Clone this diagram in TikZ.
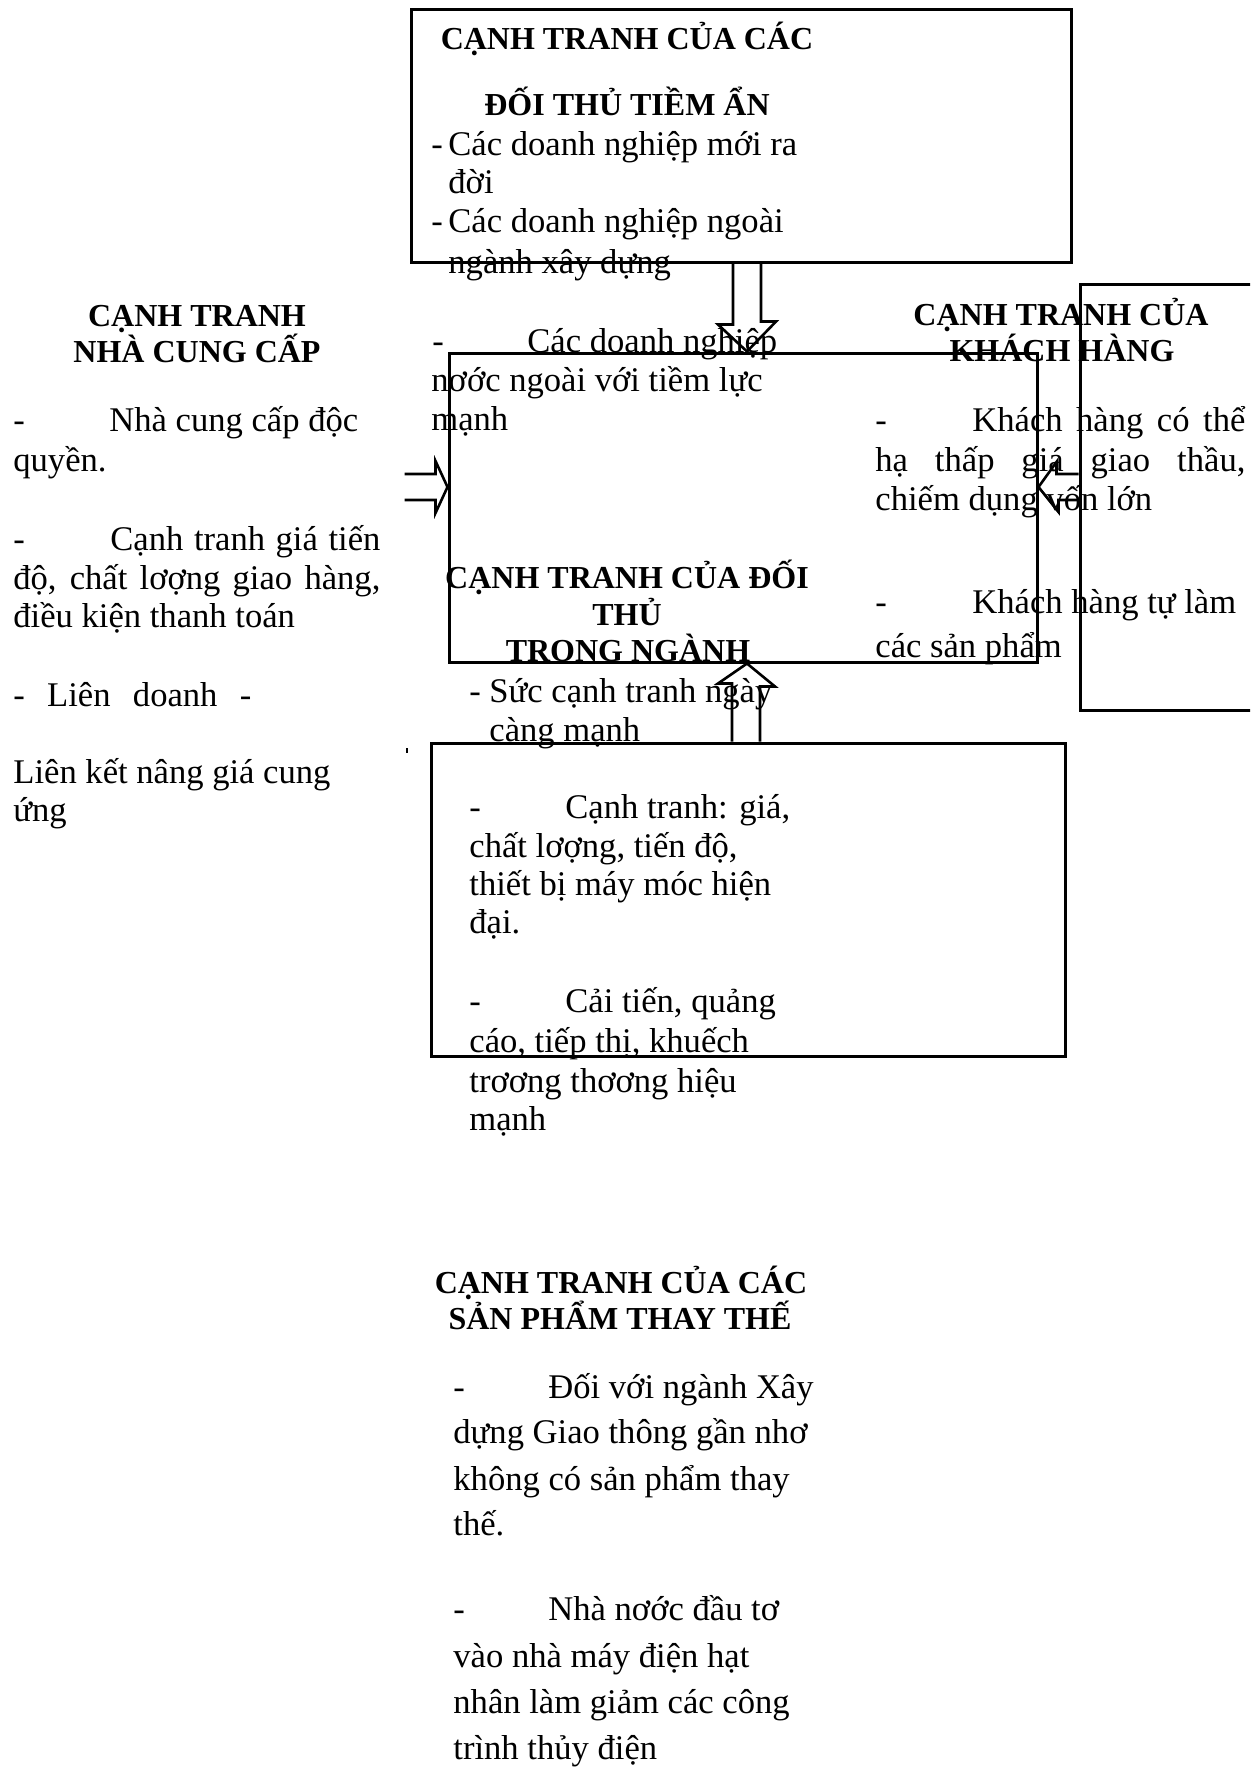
\documentclass[tikz,border=0pt]{standalone}
\usepackage{fontspec}
\setmainfont{Liberation Serif}
\usetikzlibrary{calc,fit}
\newcommand\bodysize{\fontsize{17.3}{20}\selectfont}
\newcommand\headsize{\fontsize{16}{19}\selectfont\bfseries}
% a dash followed by a tab stop of the given width
\newcommand\tabdash[1]{\makebox[#1][l]{-}}

\begin{document}
\begin{tikzpicture}[x=0.5pt,y=-0.5pt,
  txt/.style={anchor=base west, inner sep=0pt, font=\bodysize},
  head/.style={anchor=base, inner sep=0pt, font=\headsize},
  box/.style={draw, line width=1.5pt, inner sep=0pt},
  hollow/.style={draw, line width=1.3pt, line join=miter}]
\useasboundingbox (0,0) rectangle (1250,1769);
\fill[white] (0,0) rectangle (1250,1769);
\clip (0,0) rectangle (1250,1769);

% ---------- frames ----------
\node[box, fit={(411,9) (1071,262)}] (topbox) {};
\node[box, fit={(449,353) (1037,662)}] (midbox) {};
\node[box, fit={(1080,284) (1275,710)}] (custbox) {};
\node[box, fit={(431,743) (1065,1056)}] (botbox) {};

% ---------- potential entrants ----------
\node[head] (h1a) at (627,49) {CẠNH TRANH CỦA CÁC};
\node[head] (h1b) at (627,115) {ĐỐI THỦ TIỀM ẨN};
\node[txt] (p1) at (431,155) {\tabdash{8.5pt}Các doanh nghiệp mới ra};
\node[txt] (p2) at (448,193) {đời};
\node[txt] (p3) at (431,232) {\tabdash{8.5pt}Các doanh nghiệp ngoài};
\node[txt] (p4) at (448,273) {ngành xây dựng};
\node[txt] (p5) at (432,352) {\tabdash{47.5pt}Các doanh nghiệp};
\node[txt] (p6) at (431,391) {nơớc ngoài với tiềm lực};
\node[txt] (p7) at (431,430) {mạnh};

% ---------- rivalry in the industry ----------
\node[head] (h2a) at (627,588) {CẠNH TRANH CỦA ĐỐI};
\node[head] (h2b) at (627,625) {THỦ};
\node[head] (h2c) at (628,661) {TRONG NGÀNH};
\node[txt] (r1) at (469,702) {\tabdash{10pt}Sức cạnh tranh ngày};
\node[txt] (r2) at (489,741) {càng mạnh};
\node[txt] (r3) at (469,818) {\tabdash{48pt}Cạnh tranh: giá,};
\node[txt] (r4) at (469,857) {chất lơợng, tiến độ,};
\node[txt] (r5) at (469,895) {thiết bị máy móc hiện};
\node[txt] (r6) at (469,933) {đại.};
\node[txt] (r7) at (469,1012) {\tabdash{48pt}Cải tiến, quảng};
\node[txt] (r8) at (469,1052) {cáo, tiếp thị, khuếch};
\node[txt] (r9) at (469,1092) {trơơng thơơng hiệu};
\node[txt] (r10) at (469,1130) {mạnh};

% ---------- suppliers ----------
\node[head] (h3a) at (197,326) {CẠNH TRANH};
\node[head] (h3b) at (197,362) {NHÀ CUNG CẤP};
\node[txt] (s1) at (13,431) {\tabdash{48pt}Nhà cung cấp độc};
\node[txt] (s2) at (13,471) {quyền.};
\node[txt] (s3) at (13,550) {\tabdash{48.5pt}\makebox[135pt][s]{Cạnh tranh giá tiến}};
\node[txt] (s4) at (13,589) {\makebox[183.5pt][s]{độ, chất lơợng giao hàng,}};
\node[txt] (s5) at (13,627) {điều kiện thanh toán};
\node[txt] (s6) at (13,706) {\makebox[119pt][s]{- Liên doanh -}};
\node[txt] (s7) at (13,783) {Liên kết nâng giá cung};
\node[txt] (s8) at (13,821) {ứng};

% ---------- customers ----------
\node[head] (h4a) at (1061,325) {CẠNH TRANH CỦA};
\node[head] (h4b) at (1062,361) {KHÁCH HÀNG};
\node[txt] (c1) at (875,431) {\tabdash{48.5pt}\makebox[136.5pt][s]{Khách hàng có thể}};
\node[txt] (c2) at (875,471) {\makebox[185pt][s]{hạ thấp giá giao thầu,}};
\node[txt] (c3) at (875,510) {chiếm dụng vốn lớn};
\node[txt] (c4) at (875,613) {\tabdash{48.5pt}Khách hàng tự làm};
\node[txt] (c5) at (875,657) {các sản phẩm};

% ---------- substitutes ----------
\node[head] (h5a) at (621,1293) {CẠNH TRANH CỦA CÁC};
\node[head] (h5b) at (620,1329) {SẢN PHẨM THAY THẾ};
\node[txt] (b1) at (453,1398) {\tabdash{47.5pt}Đối với ngành Xây};
\node[txt] (b2) at (453,1443) {dựng Giao thông gần nhơ};
\node[txt] (b3) at (453,1490) {không có sản phẩm thay};
\node[txt] (b4) at (453,1535) {thế.};
\node[txt] (b5) at (453,1620) {\tabdash{47.5pt}Nhà nơớc đầu tơ};
\node[txt] (b6) at (453,1667) {vào nhà máy điện hạt};
\node[txt] (b7) at (453,1713) {nhân làm giảm các công};
\node[txt] (b8) at (453,1759) {trình thủy điện};

% ---------- hollow block arrows ----------
\coordinate (vx) at (747,0);
\coordinate (hy) at (0,487);
\coordinate (A) at (topbox.south -| vx);
\coordinate (T) at (midbox.north -| vx);
\draw[hollow] ($(A)+(-14,0)$) -- ++(0,61) -- ++(-15,0) -- (T)
  -- ($(T)+(29,-30)$) -- ++(-15,0) -- ($(A)+(14,0)$);

\coordinate (B) at (botbox.north -| vx);
\coordinate (U) at (midbox.south -| vx);
\draw[hollow] ($(B)+(-15,0)$) -- ++(0,-58) -- ++(-14,0) -- (U)
  -- ($(U)+(28,23)$) -- ++(-15,0) -- ($(B)+(13,0)$);

\coordinate (L) at (midbox.west |- hy);
\draw[hollow] ($(L)+(-43,-13)$) -- ++(31,0) -- ++(0,-13) -- (L)
  -- ($(L)+(-12,26)$) -- ++(0,-13) -- ++(-31,0);

\coordinate (R) at (midbox.east |- hy);
\coordinate (Rt) at (custbox.west |- hy);
\draw[hollow] ($(Rt)+(0,-13)$) -- ++(-22,0) -- ++(0,-12) -- (R)
  -- ($(R)+(20,25)$) -- ++(0,-12) -- ($(Rt)+(0,13)$);

% stray mark left of the lower frame
\fill (406,748) rectangle (408,753);
\end{tikzpicture}
\end{document}
